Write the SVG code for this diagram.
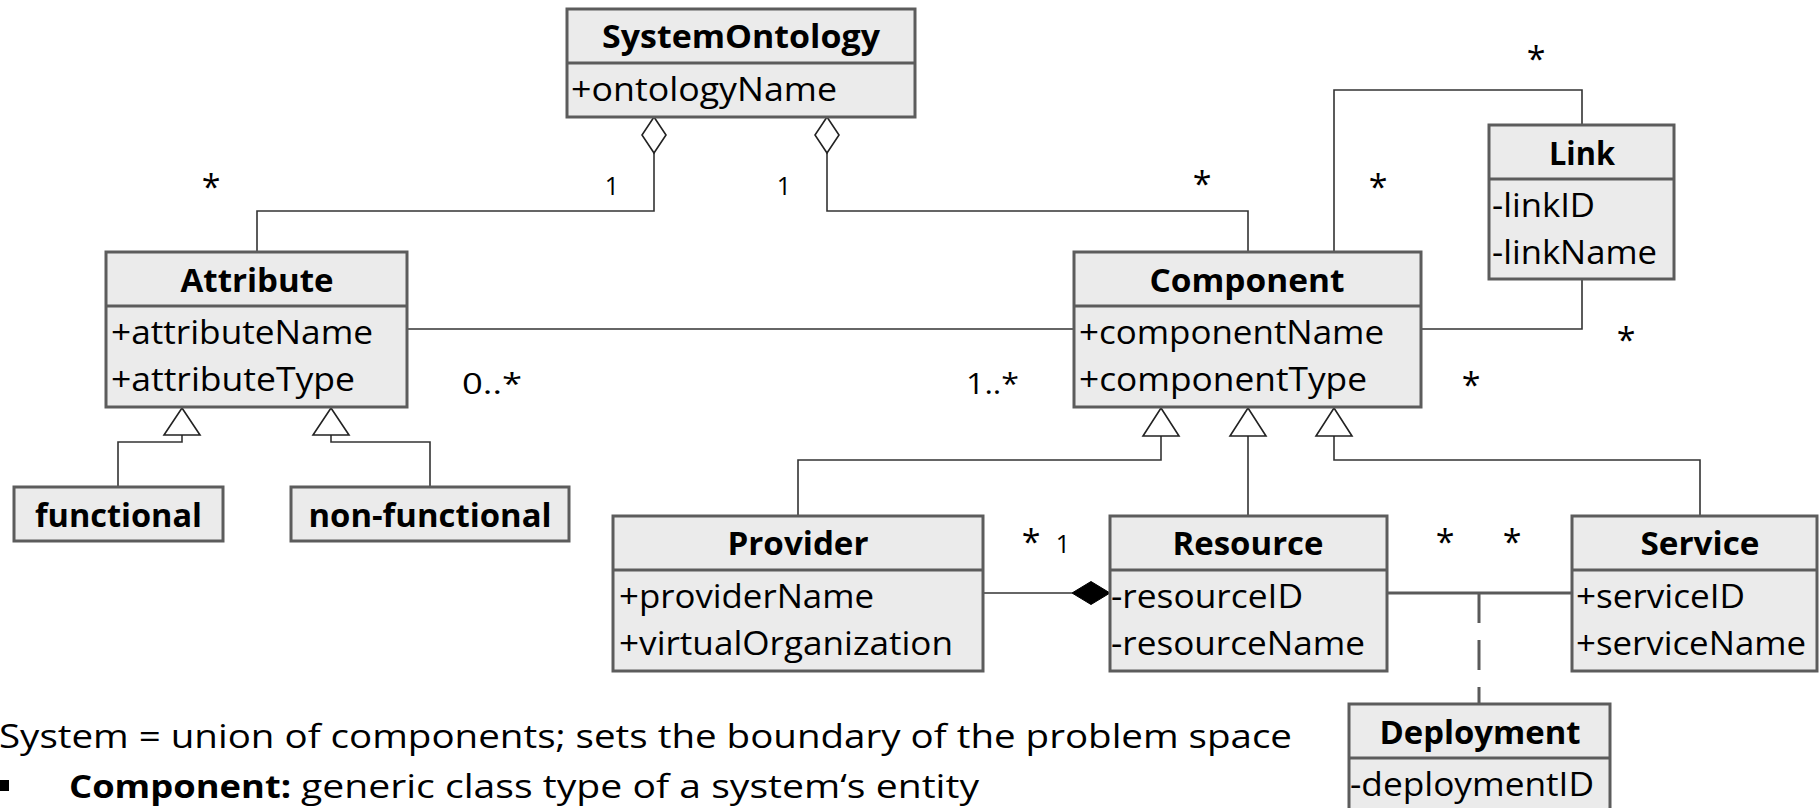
<svg xmlns="http://www.w3.org/2000/svg" width="1819" height="808" viewBox="0 0 1819 808">
  <style>
    .box { fill: #ebebeb; stroke: #5c5c5c; stroke-width: 3; }
    .sep { stroke: #5c5c5c; stroke-width: 3; }
    .title { font-family: "Open Sans", "Noto Sans", sans-serif; font-weight: bold; font-size: 32px; text-anchor: middle; fill: #000; }
    .attr { font-family: "Open Sans", "Noto Sans", sans-serif; font-size: 32px; fill: #000; }
    .mult { font-family: "Open Sans", "Noto Sans", sans-serif; font-size: 34px; text-anchor: middle; fill: #000; }
    .num { font-family: "Open Sans", "Noto Sans", sans-serif; font-size: 25px; text-anchor: middle; fill: #000; }
    .range { font-family: "Open Sans", "Noto Sans", sans-serif; font-size: 29px; fill: #000; }
    .note { font-family: "Open Sans", "Noto Sans", sans-serif; font-size: 33px; fill: #000; }
    .conn { fill: none; stroke: #333; stroke-width: 1.6; }
    .thick { fill: none; stroke: #5a5a5a; stroke-width: 3; }
    .dash { fill: none; stroke: #5a5a5a; stroke-width: 3; stroke-dasharray: 30 17; }
    .hollow { fill: #fff; stroke: #222; stroke-width: 1.6; }
    .solid { fill: #000; stroke: #000; stroke-width: 1; }
  </style>

  <!-- connectors -->
  <g id="connectors">
    <!-- aggregation SystemOntology - Attribute -->
    <polyline class="conn" points="654,153 654,211 257,211 257,252"/>
    <polygon class="hollow" points="654,117 666,135 654,153 642,135"/>
    <!-- aggregation SystemOntology - Component -->
    <polyline class="conn" points="827,153 827,211 1248,211 1248,252"/>
    <polygon class="hollow" points="827,117 839,135 827,153 815,135"/>
    <!-- Attribute - Component association -->
    <line class="conn" x1="407" y1="329" x2="1074" y2="329"/>
    <!-- Component - Link association -->
    <polyline class="conn" points="1334,252 1334,90 1582,90 1582,125"/>
    <polyline class="conn" points="1582,279 1582,329 1421,329"/>
    <!-- Attribute generalizations -->
    <polyline class="conn" points="118,487 118,442 182,442 182,435"/>
    <polygon class="hollow" points="182,408 200,435 164,435"/>
    <polyline class="conn" points="430,487 430,442 331,442 331,435"/>
    <polygon class="hollow" points="331,408 349,435 313,435"/>
    <!-- Component generalizations -->
    <polyline class="conn" points="798,516 798,460 1161,460 1161,436"/>
    <polygon class="hollow" points="1161,408 1179,436 1143,436"/>
    <line class="conn" x1="1248" y1="516" x2="1248" y2="436"/>
    <polygon class="hollow" points="1248,408 1266,436 1230,436"/>
    <polyline class="conn" points="1700,516 1700,460 1334,460 1334,436"/>
    <polygon class="hollow" points="1334,408 1352,436 1316,436"/>
    <!-- composition Provider - Resource -->
    <line class="conn" x1="983" y1="593" x2="1072" y2="593"/>
    <polygon class="solid" points="1072,593 1091,581.5 1110,593 1091,604.5"/>
    <!-- Resource - Service association with Deployment class -->
    <line class="thick" x1="1387" y1="593" x2="1572" y2="593"/>
    <line class="dash" x1="1479" y1="593" x2="1479" y2="704"/>

    <!-- multiplicities -->
    <text class="mult" x="211" y="199">*</text>
    <text class="num" x="612" y="195">1</text>
    <text class="num" x="784" y="195">1</text>
    <text class="mult" x="1202" y="196">*</text>
    <text class="mult" x="1378" y="199">*</text>
    <text class="mult" x="1536" y="71">*</text>
    <text class="mult" x="1626" y="352">*</text>
    <text class="mult" x="1471" y="397">*</text>
    <text class="range" x="462" y="394" textLength="60" lengthAdjust="spacingAndGlyphs">0..*</text>
    <text class="range" x="966" y="394" textLength="53" lengthAdjust="spacingAndGlyphs">1..*</text>
    <text class="mult" x="1031" y="554">*</text>
    <text class="num" x="1063" y="553">1</text>
    <text class="mult" x="1445" y="554">*</text>
    <text class="mult" x="1512" y="554">*</text>
  </g>

  <g id="SystemOntology">
    <rect class="box" x="567" y="9" width="348" height="108"/>
    <line class="sep" x1="567" y1="63" x2="915" y2="63"/>
    <text class="title" x="741" y="48" textLength="278" lengthAdjust="spacingAndGlyphs">SystemOntology</text>
    <text class="attr" x="571" y="101" textLength="266" lengthAdjust="spacingAndGlyphs">+ontologyName</text>
  </g>

  <g id="Attribute">
    <rect class="box" x="106" y="252" width="301" height="155"/>
    <line class="sep" x1="106" y1="306" x2="407" y2="306"/>
    <text class="title" x="257" y="292" textLength="153" lengthAdjust="spacingAndGlyphs">Attribute</text>
    <text class="attr" x="111" y="344" textLength="262" lengthAdjust="spacingAndGlyphs">+attributeName</text>
    <text class="attr" x="111" y="391" textLength="244" lengthAdjust="spacingAndGlyphs">+attributeType</text>
  </g>

  <g id="Component">
    <rect class="box" x="1074" y="252" width="347" height="155"/>
    <line class="sep" x1="1074" y1="306" x2="1421" y2="306"/>
    <text class="title" x="1247" y="292" textLength="195" lengthAdjust="spacingAndGlyphs">Component</text>
    <text class="attr" x="1079" y="344" textLength="305" lengthAdjust="spacingAndGlyphs">+componentName</text>
    <text class="attr" x="1079" y="391" textLength="288" lengthAdjust="spacingAndGlyphs">+componentType</text>
  </g>

  <g id="Link">
    <rect class="box" x="1489" y="125" width="185" height="154"/>
    <line class="sep" x1="1489" y1="179" x2="1674" y2="179"/>
    <text class="title" x="1582" y="165" textLength="66" lengthAdjust="spacingAndGlyphs">Link</text>
    <text class="attr" x="1492" y="217" textLength="103" lengthAdjust="spacingAndGlyphs">-linkID</text>
    <text class="attr" x="1492" y="264" textLength="165" lengthAdjust="spacingAndGlyphs">-linkName</text>
  </g>

  <g id="functional">
    <rect class="box" x="14" y="487" width="209" height="54"/>
    <text class="title" x="118.5" y="527" textLength="167" lengthAdjust="spacingAndGlyphs">functional</text>
  </g>

  <g id="non-functional">
    <rect class="box" x="291" y="487" width="278" height="54"/>
    <text class="title" x="430" y="527" textLength="243" lengthAdjust="spacingAndGlyphs">non-functional</text>
  </g>

  <g id="Provider">
    <rect class="box" x="613" y="516" width="370" height="155"/>
    <line class="sep" x1="613" y1="570" x2="983" y2="570"/>
    <text class="title" x="798" y="555" textLength="141" lengthAdjust="spacingAndGlyphs">Provider</text>
    <text class="attr" x="619" y="608" textLength="255" lengthAdjust="spacingAndGlyphs">+providerName</text>
    <text class="attr" x="619" y="655" textLength="334" lengthAdjust="spacingAndGlyphs">+virtualOrganization</text>
  </g>

  <g id="Resource">
    <rect class="box" x="1110" y="516" width="277" height="155"/>
    <line class="sep" x1="1110" y1="570" x2="1387" y2="570"/>
    <text class="title" x="1248" y="555" textLength="151" lengthAdjust="spacingAndGlyphs">Resource</text>
    <text class="attr" x="1111" y="608" textLength="192" lengthAdjust="spacingAndGlyphs">-resourceID</text>
    <text class="attr" x="1111" y="655" textLength="254" lengthAdjust="spacingAndGlyphs">-resourceName</text>
  </g>

  <g id="Service">
    <rect class="box" x="1572" y="516" width="245" height="155"/>
    <line class="sep" x1="1572" y1="570" x2="1817" y2="570"/>
    <text class="title" x="1700" y="555" textLength="119" lengthAdjust="spacingAndGlyphs">Service</text>
    <text class="attr" x="1576" y="608" textLength="169" lengthAdjust="spacingAndGlyphs">+serviceID</text>
    <text class="attr" x="1576" y="655" textLength="230" lengthAdjust="spacingAndGlyphs">+serviceName</text>
  </g>

  <g id="Deployment">
    <rect class="box" x="1349" y="704" width="261" height="120"/>
    <line class="sep" x1="1349" y1="758" x2="1610" y2="758"/>
    <text class="title" x="1480" y="744" textLength="201" lengthAdjust="spacingAndGlyphs">Deployment</text>
    <text class="attr" x="1350" y="796" textLength="244" lengthAdjust="spacingAndGlyphs">-deploymentID</text>
  </g>

  <!-- explanatory notes -->
  <g id="notes">
    <text class="note" x="-1" y="748" textLength="1293" lengthAdjust="spacingAndGlyphs">System = union of components; sets the boundary of the problem space</text>
    <rect x="0" y="780" width="9" height="11" fill="#000"/>
    <text class="note" x="69" y="798" font-weight="bold" textLength="222" lengthAdjust="spacingAndGlyphs">Component:</text>
    <text class="note" x="301" y="798" textLength="678" lengthAdjust="spacingAndGlyphs">generic class type of a system‘s entity</text>
  </g>
</svg>
